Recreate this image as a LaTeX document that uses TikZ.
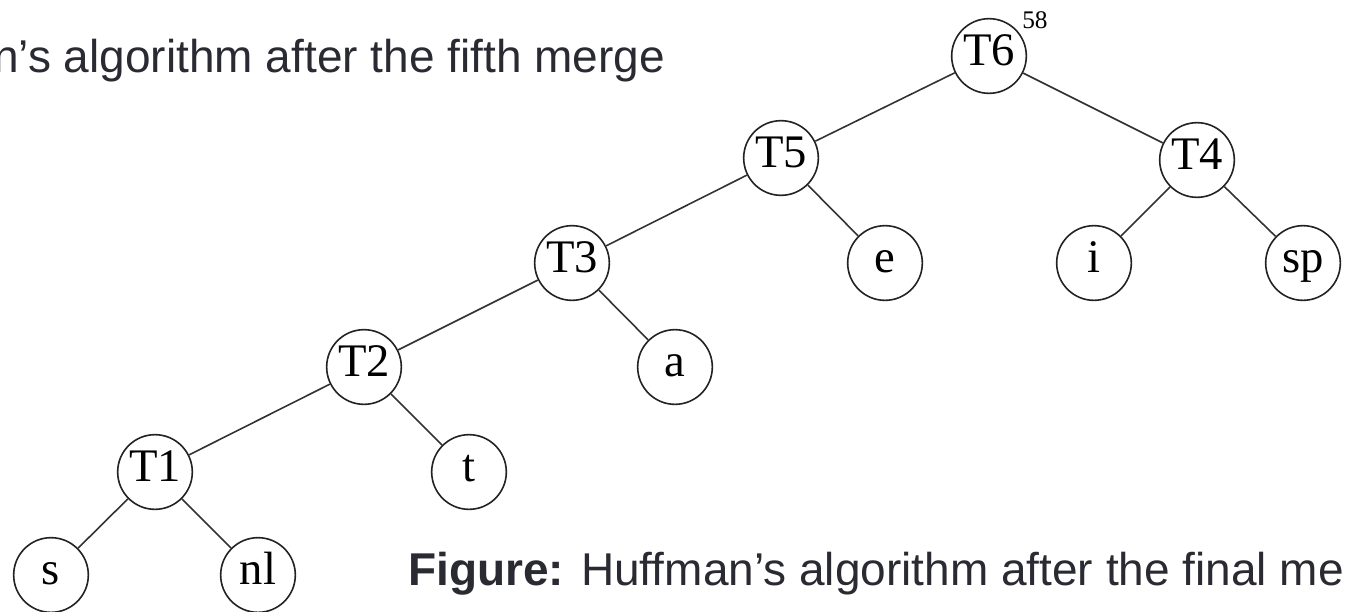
\documentclass[tikz,border=0pt]{standalone}
\usepackage{fontspec}
\setmainfont{Liberation Serif}
\newfontfamily\capfont{Liberation Sans}
\definecolor{inkline}{HTML}{333333}
\definecolor{inkcirc}{HTML}{222222}
\definecolor{captext}{HTML}{2A2A33}
\begin{document}
\begin{tikzpicture}[x=0.75pt,y=-0.75pt,
  tnode/.style={circle,draw=inkcirc,line width=1.2pt,minimum size=56pt,inner sep=0pt,
    text height=13.5pt,text depth=0pt,font=\fontsize{35}{35}\selectfont},
  tedge/.style={draw=inkline,line width=1.2pt},
  caption/.style={anchor=base west,inner sep=0pt,text=captext,
    font=\capfont\fontsize{34.5}{34.5}\selectfont}]
\useasboundingbox (0,0) rectangle (1347,611);

% tree nodes
\node[tnode] (T6) at (989,56) {T6};
\node[tnode] (T5) at (781,158) {T5};
\node[tnode] (T4) at (1197,160) {T4};
\node[tnode] (T3) at (572,263) {T3};
\node[tnode] (e)  at (885,263) {e};
\node[tnode] (i)  at (1094,263) {i};
\node[tnode] (sp) at (1303,263) {sp};
\node[tnode] (T2) at (364,367) {T2};
\node[tnode] (a)  at (675,367) {a};
\node[tnode] (T1) at (155,472) {T1};
\node[tnode] (t)  at (469,472) {t};
\node[tnode] (s)  at (51,575) {s};
\node[tnode] (nl) at (258,575) {nl};

% weight of the root
\node[anchor=base west,inner sep=0pt,font=\fontsize{19}{19}\selectfont] (w58) at (1022,28) {58};

% edges
\draw[tedge] (T6) -- (T5);
\draw[tedge] (T6) -- (T4);
\draw[tedge] (T5) -- (T3);
\draw[tedge] (T5) -- (e);
\draw[tedge] (T4) -- (i);
\draw[tedge] (T4) -- (sp);
\draw[tedge] (T3) -- (T2);
\draw[tedge] (T3) -- (a);
\draw[tedge] (T2) -- (T1);
\draw[tedge] (T2) -- (t);
\draw[tedge] (T1) -- (s);
\draw[tedge] (T1) -- (nl);

% captions
\node[caption] (captop) at (-7,72) {n’s algorithm after the fifth merge};
\node[caption] (capbot) at (408,585) {\textbf{Figure:} Huffman’s algorithm after the final me};
\end{tikzpicture}
\end{document}
